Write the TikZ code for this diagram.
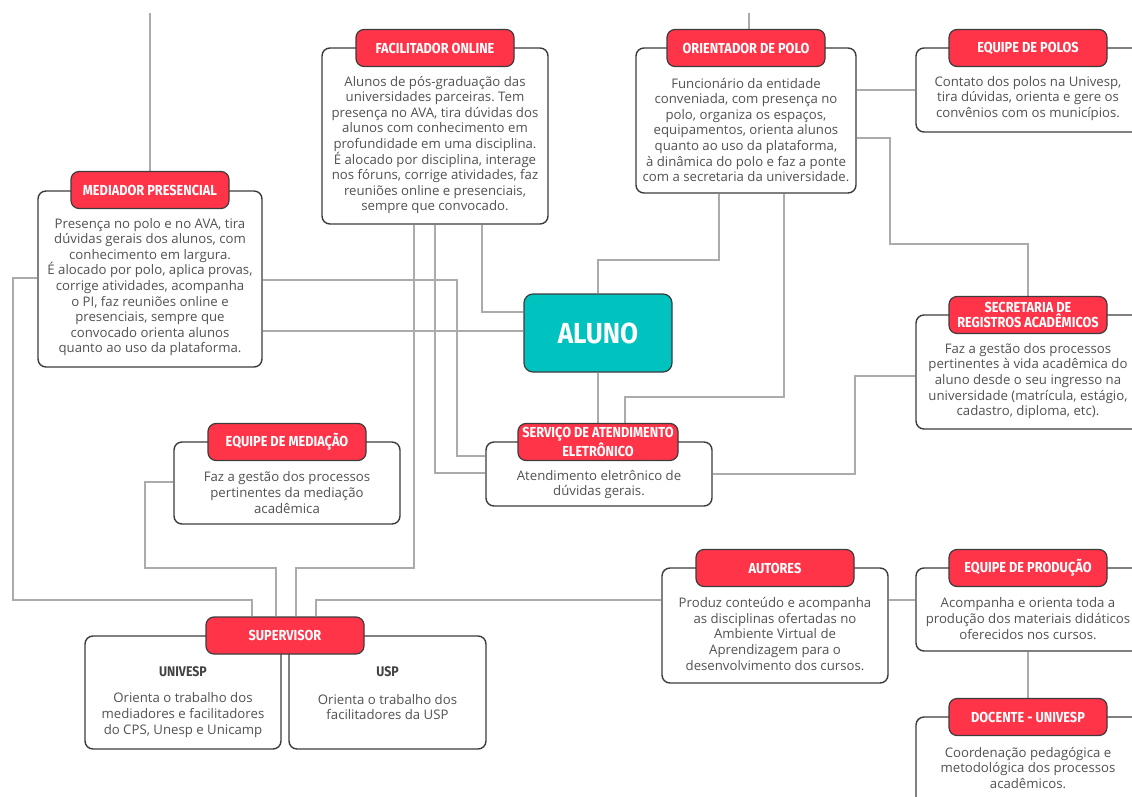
\documentclass[tikz,border=0pt]{standalone}
\usepackage{fontspec}
\setmainfont{Open Sans}
\newfontfamily\hdrfont[FakeStretch=0.88]{Fira Sans}
\newfontfamily\alfont[FakeStretch=0.9]{Fira Sans}
\definecolor{hred}{HTML}{FF3449}
\definecolor{tealc}{HTML}{00C2BE}
\definecolor{bord}{HTML}{3C3C3C}
\definecolor{conng}{HTML}{ABABAB}
\definecolor{txt}{HTML}{525252}
\pgfdeclarelayer{bg}
\pgfsetlayers{bg,main}
\frenchspacing
\tikzset{
  conn/.style={draw=conng, line width=1.6pt},
  box/.style={draw=bord, line width=1.4pt, fill=white, rounded corners=8pt, inner sep=0pt},
  hdr/.style={draw=bord, line width=1.2pt, fill=hred, rounded corners=8pt, minimum width=158pt, minimum height=37pt, inner sep=0pt, font=\hdrfont\bfseries\fontsize{14.5}{14.5}\selectfont, text=white, align=center},
  body/.style={text=txt, align=center, inner sep=0pt, font=\frenchspacing\fontsize{13.2}{15.6}\selectfont},
  subtitle/.style={text=txt!80!black, inner sep=0pt, font=\hdrfont\bfseries\fontsize{14}{14}\selectfont},
  alunobox/.style={draw=bord, line width=1.2pt, fill=tealc, rounded corners=9pt, minimum width=148pt, minimum height=78pt, inner sep=0pt, text=white, font=\alfont\bfseries\fontsize{29}{29}\selectfont}
}
\begin{document}
\begin{tikzpicture}[x=1pt,y=-1pt]
\useasboundingbox (0,0) rectangle (1132,797);
\clip (0,0) rectangle (1132,797);

% ---------- boxes ----------
\node[box, minimum width=224pt, minimum height=176pt] (mb) at (150,279) {};
\node[box, minimum width=226pt, minimum height=176pt] (fb) at (435,136) {};
\node[box, minimum width=220pt, minimum height=145pt] (ob) at (746,120.5) {};
\node[box, minimum width=224pt, minimum height=84pt] (pb) at (1028,90) {};
\node[box, minimum width=224pt, minimum height=114pt] (sb) at (1028,372) {};
\node[alunobox] (al) at (598,333) {ALUNO};
\node[box, minimum width=226pt, minimum height=64pt] (eb) at (599,474) {};
\node[box, minimum width=226pt, minimum height=82pt] (mdb) at (287,483) {};
\node[box, minimum width=196pt, minimum height=113pt] (uvb) at (183,692.5) {};
\node[box, minimum width=197pt, minimum height=113pt] (usb) at (387.5,692.5) {};
\node[box, minimum width=226pt, minimum height=115pt] (aub) at (775,625.5) {};
\node[box, minimum width=224pt, minimum height=83pt] (prb) at (1028,609.5) {};
\node[box, minimum width=224pt, minimum height=100pt] (dcb) at (1028,767) {};

% ---------- headers ----------
\node[hdr] (mh) at (150,190) {MEDIADOR PRESENCIAL};
\node[hdr] (fh) at (435,48) {FACILITADOR ONLINE};
\node[hdr] (oh) at (746,48) {ORIENTADOR DE POLO};
\node[hdr] (ph) at (1028,48) {EQUIPE DE POLOS};
\node[hdr] (sh) at (1028,315) {SECRETARIA DE\\REGISTROS ACADÊMICOS};
\node[hdr, minimum width=160pt] (eh) at (598,442) {SERVIÇO DE ATENDIMENTO\\ELETRÔNICO};
\node[hdr] (mdh) at (287,442) {EQUIPE DE MEDIAÇÃO};
\node[hdr] (suh) at (285,635.5) {SUPERVISOR};
\node[hdr] (auh) at (775,568) {AUTORES};
\node[hdr] (prh) at (1028,568) {EQUIPE DE PRODUÇÃO};
\node[hdr] (dch) at (1028,717) {DOCENTE - UNIVESP};

% ---------- texts ----------
\node[body] (mt) at (150,287) {Presença no polo e no AVA, tira\\dúvidas gerais dos alunos, com\\conhecimento em largura.\\É alocado por polo, aplica provas,\\corrige atividades, acompanha\\o PI, faz reuniões online e\\presenciais, sempre que\\convocado orienta alunos\\quanto ao uso da plataforma.};
\node[body] (ft) at (435,145) {Alunos de pós-graduação das\\universidades parceiras. Tem\\presença no AVA, tira dúvidas dos\\alunos com conhecimento em\\profundidade em uma disciplina.\\É alocado por disciplina, interage\\nos fóruns, corrige atividades, faz\\reuniões online e presenciais,\\sempre que convocado.};
\node[body] (ot) at (746,130) {Funcionário da entidade\\conveniada, com presença no\\polo, organiza os espaços,\\equipamentos, orienta alunos\\quanto ao uso da plataforma,\\à dinâmica do polo e faz a ponte\\com a secretaria da universidade.};
\node[body] (pt) at (1028,98.5) {Contato dos polos na Univesp,\\tira dúvidas, orienta e gere os\\convênios com os municípios.};
\node[body] (st) at (1028,381) {Faz a gestão dos processos\\pertinentes à vida acadêmica do\\aluno desde o seu ingresso na\\universidade (matrícula, estágio,\\cadastro, diploma, etc).};
\node[body] (et) at (599,484.5) {Atendimento eletrônico de\\dúvidas gerais.};
\node[body] (mdt) at (287,492.5) {Faz a gestão dos processos\\pertinentes da mediação\\acadêmica};
\node[subtitle] (uvs) at (183,672) {UNIVESP};
\node[body] (uvt) at (183,715) {Orienta o trabalho dos\\mediadores e facilitadores\\do CPS, Unesp e Unicamp};
\node[subtitle] (uss) at (387.5,672) {USP};
\node[body] (ust) at (387.5,707) {Orienta o trabalho dos\\facilitadores da USP};
\node[body] (aut) at (775,634) {Produz conteúdo e acompanha\\as disciplinas ofertadas no\\Ambiente Virtual de\\Aprendizagem para o\\desenvolvimento dos cursos.};
\node[body] (prt) at (1028,618.5) {Acompanha e orienta toda a\\produção dos materiais didáticos\\oferecidos nos cursos.};
\node[body] (dct) at (1028,768) {Coordenação pedagógica e\\metodológica dos processos\\acadêmicos.};

% ---------- connectors (behind) ----------
\coordinate (topA) at (150,13);
\coordinate (topB) at (749,13);
\begin{pgfonlayer}{bg}
\fill[white] (0,0) rectangle (1132,797);
\draw[conn] (topA) -- (mh.north);
\draw[conn] (topB) -- (topB |- oh.north);
\draw[conn] (fb.south -| 482,0) |- (al.west |- 0,312);
\draw[conn] (mb.east |- 0,331) -- (al.west |- 0,331);
\draw[conn] (mb.east |- 0,280) -- (457,280) |- (eb.west |- 0,456);
\draw[conn] (fb.south -| 435,0) |- (eb.west |- 0,473);
\draw[conn] (fb.south -| 414,0) -- (414,568) -| (suh.north -| 296,0);
\draw[conn] (mdb.west |- 0,482) -| (145,568) -| (suh.north -| 276,0);
\draw[conn] (mb.west |- 0,278) -| (13,600) -| (suh.north -| 252,0);
\draw[conn] (aub.west |- 0,600) -| (suh.north -| 316,0);
\draw[conn] (al.south) -- (eh.north);
\draw[conn] (ob.south -| 719,0) |- (598,260) -- (al.north);
\draw[conn] (ob.south -| 784,0) |- (625,397) -- (eh.north -| 625,0);
\draw[conn] (ob.east |- 0,90) -- (pb.west |- 0,90);
\draw[conn] (ob.east |- 0,138) -| (890,244) -| (sh.north);
\draw[conn] (eb.east |- 0,474) -| (855,376) -- (sb.west |- 0,376);
\draw[conn] (aub.east |- 0,600) -- (prb.west |- 0,600);
\draw[conn] (prb.south) -- (dch.north);
\end{pgfonlayer}
\end{tikzpicture}
\end{document}
